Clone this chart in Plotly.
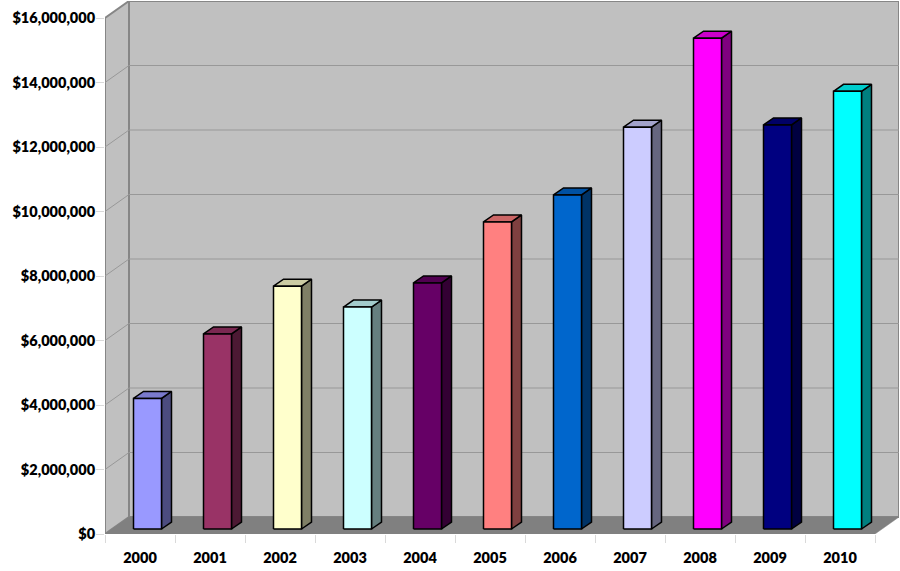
import plotly.graph_objects as go

# Annual dollar totals drawn as pseudo-3D columns
years = ["2000", "2001", "2002", "2003", "2004", "2005", "2006", "2007", "2008", "2009", "2010"]
values = [4050000, 6050000, 7530000, 6880000, 7630000, 9520000, 10360000, 12460000, 15220000, 12530000, 13570000]
front_colors = ["#9999FF", "#993366", "#FFFFCC", "#CCFFFF", "#660066", "#FF8080",
                "#0066CC", "#CCCCFF", "#FF00FF", "#000080", "#00FFFF"]
y_ticks = [0, 2000000, 4000000, 6000000, 8000000, 10000000, 12000000, 14000000, 16000000]
y_labels = ["$0", "$2,000,000", "$4,000,000", "$6,000,000", "$8,000,000",
            "$10,000,000", "$12,000,000", "$14,000,000", "$16,000,000"]

# Layout of the plot rectangle, in pixels
W, H = 900, 571
LEFT, RIGHT, TOP, BOTTOM = 105, 1, 1, 37
PX_PER_CAT = 70.0
PX_PER_DOLLAR = 516.0 / 16000000

def dx(px):
    return px / PX_PER_CAT

def dy(px):
    return px / PX_PER_DOLLAR

X0 = -0.5
X1 = X0 + dx(W - LEFT - RIGHT)
Y1 = dy(H - TOP - BOTTOM)
CAT_END = X0 + len(years)

# Depth of the room and of each column
ROOM_DX, ROOM_DY = dx(24), dy(17)
BAR_DX, BAR_DY = dx(10), dy(7)
BAR_W = dx(28)
BAR_INSET = dx(28.5)
BAR_BASE = dy(5)

WALL = "#C0C0C0"
FLOOR = "#808080"
EDGE = "#868686"
GRID = "#989898"
TICK = "#D9D9D9"


def shade(color, factor):
    r, g, b = (int(color[i:i + 2], 16) for i in (1, 3, 5))
    return "#%02X%02X%02X" % (int(r * factor), int(g * factor), int(b * factor))


fig = go.Figure()


def poly(xs, ys, fill, line, width):
    fig.add_trace(go.Scatter(
        x=xs + [xs[0]], y=ys + [ys[0]], mode="lines", fill="toself", fillcolor=fill,
        line=dict(color=line, width=width, shape="linear"),
        hoverinfo="skip", showlegend=False, cliponaxis=False,
    ))


top_val = y_ticks[-1]

# Back wall, side wall and floor
poly([X0 + ROOM_DX, CAT_END + ROOM_DX, CAT_END + ROOM_DX, X0 + ROOM_DX],
     [ROOM_DY, ROOM_DY, top_val + ROOM_DY, top_val + ROOM_DY], WALL, EDGE, 2)
poly([X0, X0 + ROOM_DX, X0 + ROOM_DX, X0],
     [0, ROOM_DY, top_val + ROOM_DY, top_val], WALL, EDGE, 2)
poly([X0, CAT_END, CAT_END + ROOM_DX, X0 + ROOM_DX],
     [0, 0, ROOM_DY, ROOM_DY], FLOOR, FLOOR, 0.5)

# Gridlines wrap from the side wall onto the back wall
for v in y_ticks[1:-1]:
    fig.add_trace(go.Scatter(
        x=[X0, X0 + ROOM_DX, CAT_END + ROOM_DX], y=[v, v + ROOM_DY, v + ROOM_DY],
        mode="lines", line=dict(color=GRID, width=1),
        hoverinfo="skip", showlegend=False, cliponaxis=False,
    ))

# Columns: top and side faces first, then the front face
for i, (val, col) in enumerate(zip(values, front_colors)):
    xl = X0 + i + BAR_INSET
    xr = xl + BAR_W
    yb = BAR_BASE
    yt = BAR_BASE + val
    poly([xr, xr + BAR_DX, xr + BAR_DX, xr],
         [yb, yb + BAR_DY, yt + BAR_DY, yt], shade(col, 0.5), "#000000", 1.5)
    poly([xl, xr, xr + BAR_DX, xl + BAR_DX],
         [yt, yt, yt + BAR_DY, yt + BAR_DY], shade(col, 0.8), "#000000", 1.5)
    poly([xl, xr, xr, xl], [yb, yb, yt, yt], col, "#000000", 1.5)

# Boundary tick marks on a companion x axis, labels on the main one
fig.add_trace(go.Scatter(x=[X0], y=[0], xaxis="x2", mode="markers",
                         marker=dict(opacity=0), hoverinfo="skip", showlegend=False))

label_font = dict(family="Lato", size=14.5, color="#000000", weight=800)

fig.update_layout(
    width=W, height=H,
    margin=dict(l=LEFT, r=RIGHT, t=TOP, b=BOTTOM, pad=0),
    paper_bgcolor="white", plot_bgcolor="white",
    showlegend=False,
    xaxis=dict(
        range=[X0, X1], tickmode="array", tickvals=list(range(len(years))), ticktext=years,
        ticks="outside", ticklen=11, tickcolor="rgba(0,0,0,0)", tickfont=label_font,
        showgrid=False, zeroline=False, showline=False,
    ),
    xaxis2=dict(
        range=[X0, X1], overlaying="x", anchor="y", side="bottom",
        tickmode="array", tickvals=[X0 + k for k in range(len(years) + 1)], ticktext=[""] * (len(years) + 1),
        ticks="outside", ticklen=8, tickcolor=TICK, tickwidth=1,
        showgrid=False, zeroline=False, showline=False,
    ),
    yaxis=dict(
        range=[0, Y1], tickmode="array", tickvals=y_ticks, ticktext=y_labels,
        ticks="outside", ticklen=8, tickcolor=TICK, tickwidth=1, tickfont=label_font,
        ticklabelstandoff=-2,
        showgrid=False, zeroline=False, showline=False,
    ),
)

fig.write_html("out.html", config=dict(displayModeBar=False))
